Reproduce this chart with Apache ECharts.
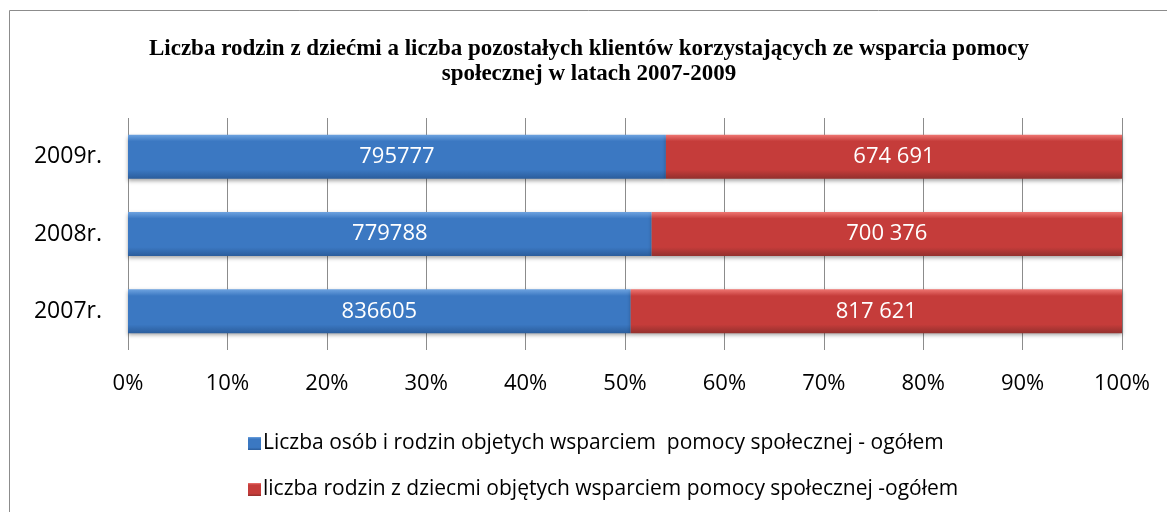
<!DOCTYPE html>
<html style="height: 100%">
<head>
    <meta charset="utf-8">
    <script src="https://cdn.jsdelivr.net/npm/echarts@6/dist/echarts.min.js"></script>
</head>
<body style="height: 100%; margin: 0; background: #fff">
<div id="container" style="width:1167px; height:512px"></div>
<script type="text/javascript">
    var years = ['2007r.', '2008r.', '2009r.'];
    var ogolem = [836605, 779788, 795777];        // Liczba osób i rodzin ... - ogółem
    var zDziecmi = [817621, 700376, 674691];      // liczba rodzin z dziecmi ...
    var ogolemLabels = ['836605', '779788', '795777'];
    var zDziecmiLabels = ['817 621', '700 376', '674 691'];
    var xTicks = [0, 10, 20, 30, 40, 50, 60, 70, 80, 90, 100];

    var names = [
        'Liczba osób i rodzin objetych wsparciem  pomocy społecznej - ogółem',
        'liczba rodzin z dziecmi objętych wsparciem pomocy społecznej -ogółem'
    ];

    // 100% stacking
    var pctA = [], pctB = [];
    for (var i = 0; i < years.length; i++) {
        var tot = ogolem[i] + zDziecmi[i];
        pctA.push(ogolem[i] / tot * 100);
        pctB.push(zDziecmi[i] / tot * 100);
    }

    function grad(top, mid, bot) {
        return new echarts.graphic.LinearGradient(0, 0, 0, 1, [
            {offset: 0, color: top},
            {offset: 0.15, color: mid},
            {offset: 0.8, color: mid},
            {offset: 1, color: bot}
        ]);
    }
    var blue = grad('#6ea3e0', '#3b78c2', '#2b5d9c');
    var red = grad('#ef7672', '#c53c3a', '#93302d');

    var chart = echarts.init(document.getElementById('container'));
    var option = {
        animation: false,
        title: {
            text: 'Liczba rodzin z dziećmi a liczba pozostałych klientów korzystających ze wsparcia pomocy\nspołecznej w latach 2007-2009',
            left: 584,
            textAlign: 'center',
            top: 32,
            textStyle: {
                fontFamily: 'Liberation Serif',
                fontWeight: 'bold',
                fontSize: 23,
                lineHeight: 25,
                color: '#000'
            }
        },
        graphic: [{
            type: 'rect',
            shape: {x: 9.5, y: 10.5, width: 1200, height: 600},
            style: {fill: 'none', stroke: '#8c8c8c', lineWidth: 1},
            silent: true
        }],
        legend: {
            orient: 'vertical',
            left: 243,
            top: 428,
            itemGap: 25,
            itemWidth: 13,
            itemHeight: 13,
            icon: 'rect',
            data: names,
            textStyle: {fontFamily: 'Open Sans', fontSize: 21, color: '#000', padding: [0, 0, 0, -3]}
        },
        grid: {left: 128, right: 45, top: 118, bottom: 162},
        xAxis: {
            type: 'value',
            min: 0,
            max: 100,
            interval: 10,
            axisLine: {show: false},
            axisTick: {show: false},
            axisLabel: {
                formatter: '{value}%',
                fontFamily: 'Open Sans',
                fontSize: 22,
                color: '#000',
                margin: 23
            },
            splitLine: {lineStyle: {color: '#8c8c8c', width: 1}}
        },
        yAxis: {
            type: 'category',
            data: years,
            axisLine: {show: false},
            axisTick: {show: false},
            axisLabel: {fontFamily: 'Open Sans', fontSize: 23, color: '#000', margin: 26}
        },
        series: [{
            name: names[0],
            type: 'bar',
            stack: 'all',
            barWidth: 44,
            data: pctA,
            itemStyle: {
                color: blue,
                shadowColor: 'rgba(0,0,0,0.35)',
                shadowBlur: 4,
                shadowOffsetY: 2
            },
            label: {
                show: true,
                position: 'inside',
                color: '#fff',
                fontFamily: 'Open Sans',
                fontSize: 22,
                formatter: function (p) { return ogolemLabels[p.dataIndex]; }
            }
        }, {
            name: names[1],
            type: 'bar',
            stack: 'all',
            barWidth: 44,
            data: pctB,
            itemStyle: {
                color: red,
                shadowColor: 'rgba(0,0,0,0.35)',
                shadowBlur: 4,
                shadowOffsetY: 2
            },
            label: {
                show: true,
                position: 'inside',
                color: '#fff',
                fontFamily: 'Open Sans',
                fontSize: 22,
                formatter: function (p) { return zDziecmiLabels[p.dataIndex]; }
            }
        }]
    };
    chart.setOption(option);
</script>
</body>
</html>
